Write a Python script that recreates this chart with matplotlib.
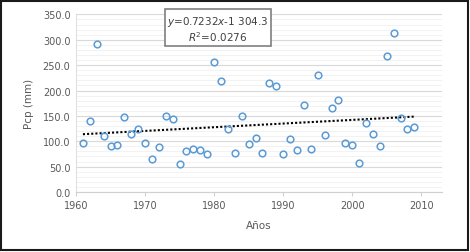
import matplotlib
matplotlib.use("Agg")
import matplotlib.pyplot as plt
from matplotlib.patches import Rectangle
from matplotlib.ticker import MultipleLocator, FormatStrFormatter

years = list(range(1961, 2010))
pcp = [96, 139, 291, 111, 90, 92, 148, 114, 125, 96,
       66, 89, 150, 143, 55, 80, 84, 82, 74, 257,
       218, 125, 76, 149, 95, 107, 76, 215, 209, 74,
       105, 82, 172, 85, 230, 113, 165, 181, 96, 92,
       57, 136, 115, 91, 269, 313, 146, 125, 128]
slope = 0.7232
intercept = -1304.3
eq_text = "$y$=0.7232$x$-1 304.3\n$R^2$=0.0276"
x_ticks = [1960, 1970, 1980, 1990, 2000, 2010]

W, H = 470, 253
fig = plt.figure(figsize=(W / 100, H / 100), dpi=100)
ax = fig.add_axes([76 / W, 1 - 193 / H, (442 - 76) / W, (193 - 15.4) / H])

ax.set_xlim(1960, 2013)
ax.set_ylim(0, 350)
ax.yaxis.set_major_locator(MultipleLocator(50))
ax.yaxis.set_minor_locator(MultipleLocator(10))
ax.yaxis.set_major_formatter(FormatStrFormatter("%.1f"))
ax.set_xticks(x_ticks)
ax.grid(axis="y", which="major", color="#d9d9d9", linewidth=0.8)
ax.grid(axis="y", which="minor", color="#f0f0f0", linewidth=0.6)
ax.set_axisbelow(True)

for s in ["top", "right"]:
    ax.spines[s].set_visible(False)
ax.spines["left"].set_color("#e0e0e0")
ax.spines["bottom"].set_color("#d0d0d0")
ax.tick_params(axis="y", which="both", length=0, labelsize=7, labelcolor="#595959", pad=4)
ax.tick_params(axis="x", which="major", length=3, color="#d0d0d0", direction="out",
               labelsize=7, labelcolor="#595959", pad=3)

ax.plot(years, pcp, linestyle="none", marker="o", markersize=4.8,
        markerfacecolor="none", markeredgecolor="#5B9BD5", markeredgewidth=1.1, zorder=3)

x0, x1 = years[0], years[-1]
ax.plot([x0, x1], [slope * x0 + intercept, slope * x1 + intercept],
        color="black", linestyle=(0, (1, 1)), linewidth=1.5, zorder=2)

ax.set_ylabel("Pcp (mm)", fontsize=7.5, color="#595959", labelpad=6)
ax.set_xlabel("Años", fontsize=7.5, color="#595959", labelpad=7)

fig.text(218 / W, 1 - 29.5 / H, eq_text, ha="center", va="center", fontsize=7.5,
         color="#404040", linespacing=1.1,
         bbox=dict(boxstyle="square,pad=0.25", facecolor="white", edgecolor="#7f7f7f", linewidth=1.2))

fig.patches.append(Rectangle((1 / W, 2 / H), (W - 3) / W, (H - 3.5) / H, transform=fig.transFigure,
                             fill=False, edgecolor="#1a1a1a", linewidth=1.5))

fig.savefig("out.png", dpi=100)
